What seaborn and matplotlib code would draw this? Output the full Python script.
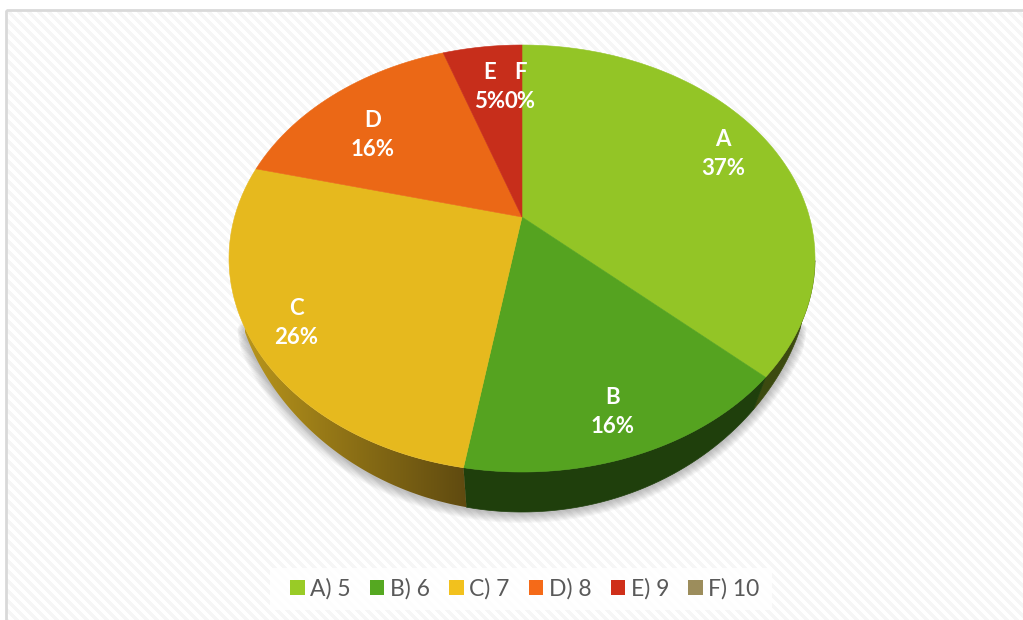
import matplotlib
matplotlib.use("Agg")
import matplotlib.pyplot as plt
import numpy as np
import seaborn as sns
from matplotlib.patches import Patch, Polygon, Rectangle

# answer counts per option, 19 answers in total
categories = ['A', 'B', 'C', 'D', 'E', 'F']
legend_labels = ['A) 5', 'B) 6', 'C) 7', 'D) 8', 'E) 9', 'F) 10']
counts = [7, 3, 5, 3, 1, 0]
pct_labels = ['37%', '16%', '26%', '16%', '5%', '0%']
colors = ['#93c526', '#55a320', '#e6b91e', '#eb6816', '#c72e1b', '#978b5b']
legend_colors = ['#99cb26', '#55a821', '#f2c11d', '#f56a18', '#cf2f19', '#9c8d5c']
wall_colors = ['#3c4a10', '#1f3f0c', '#7a5f12', '#6e3008', '#5e1508', '#474029']

sns.set_theme(style='white')
plt.rcParams['font.family'] = ['Lato', 'DejaVu Sans']

# tilted pie: circle seen in perspective, apex sits above the ellipse centre
CX, CY, RX, RY = 522, 258.5, 293, 213.5
APEX_Y = 217
K = (CY - APEX_Y) / RY
DEPTH, WALL_SHRINK, WALL_LIMIT = 40, 0.95, 280


def rim(frac):
    a = 2 * np.pi * np.asarray(frac)
    u, v = np.sin(a), np.cos(a)
    w = 1 + K * v
    return CX + RX * np.sqrt(1 - K ** 2) * u / w, CY - RY * (v + K) / w


def lower_edge(x):
    # bottom of the side wall under a rim point, wall gets thinner to the sides
    lx = CX + WALL_SHRINK * (x - CX)
    top = CY + RY * np.sqrt(np.clip(1 - ((lx - CX) / RX) ** 2, 0, 1))
    thick = DEPTH * np.clip(1 - ((lx - CX) / WALL_LIMIT) ** 2, 0, 1) ** 0.6
    return lx, top + thick


fig, ax = plt.subplots(figsize=(10.23, 6.2), dpi=100)
ax.set_position([0, 0, 1, 1])
ax.set_xlim(0, 1023)
ax.set_ylim(620, 0)
ax.axis('off')

# striped background and frame
yy, xx = np.mgrid[0:620, 0:1023]
stripes = ((xx - yy) % 10 < 5).astype(float)
ax.imshow(stripes, cmap=sns.blend_palette(['#f6f6f6', '#ffffff'], as_cmap=True),
          extent=(0, 1023, 620, 0), zorder=0, interpolation='nearest', aspect='auto')
ax.add_patch(Rectangle((0, 0), 6, 620, color='white', zorder=1))
ax.add_patch(Rectangle((0, 0), 1023, 10, color='white', zorder=1))
ax.add_patch(Rectangle((6, 10), 1030, 700, fill=False, ec='#d9d9d9', lw=2, zorder=1))

# soft shadow along the bottom of the pie, narrower towards the sides
sx, _ = rim(np.linspace(0.21, 0.79, 400))
sy = CY + RY * np.sqrt(np.clip(1 - ((sx - CX) / RX) ** 2, 0, 1))
lx, ly = lower_edge(sx)
sx_all = np.where(sy > ly, sx, lx)
sy_all = np.maximum(sy, ly)
for width in np.arange(20, 1, -2):
    keep = sy_all > 295 + width * 2.5
    ax.plot(sx_all[keep], sy_all[keep] + 1, color='#505050', lw=width * 0.72, alpha=0.04,
            solid_capstyle='round', zorder=2)

fracs = np.cumsum([0] + counts) / sum(counts)

# side wall, segment by segment
for i in range(len(counts)):
    if counts[i] == 0:
        continue
    x, y = rim(np.linspace(fracs[i], fracs[i + 1], 160))
    keep = y > 258
    if not keep.any():
        continue
    lx, ly = lower_edge(x[keep])
    pts = np.r_[np.c_[x[keep], y[keep]], np.c_[lx, ly][::-1]]
    if categories[i] == 'C':
        # C wall fades from light on the left to dark at the front
        shade = np.linspace(0, 1, 256).reshape(1, -1)
        cmap = sns.blend_palette(['#b8951c', '#8a6e15', '#5f4a10'], as_cmap=True)
        im = ax.imshow(shade, cmap=cmap, extent=(245, 468, 520, 300), zorder=4, aspect='auto')
        im.set_clip_path(Polygon(pts, transform=ax.transData))
    else:
        ax.add_patch(Polygon(pts, fc=wall_colors[i], ec=wall_colors[i], lw=0.5, zorder=4))

# top of the pie
for i in range(len(counts)):
    if counts[i] == 0:
        continue
    x, y = rim(np.linspace(fracs[i], fracs[i + 1], 200))
    pts = np.r_[[[CX, APEX_Y]], np.c_[x, y]]
    ax.add_patch(Polygon(pts, fc=colors[i], ec=colors[i], lw=0.4, zorder=5))

# data labels
label_pos = [(723, 154), (613, 412), (296, 323), (373, 135), (490, 87), (520, 87)]
for name, pct, (lx, ly) in zip(categories, pct_labels, label_pos):
    ax.text(lx, ly, name + '\n' + pct, color='white', fontsize=16, fontweight='bold',
            ha='center', va='center', linespacing=1.42, zorder=6)

# legend
ax.add_patch(Rectangle((270, 568), 502, 42, fc='white', ec='none', alpha=0.85, zorder=6))
handles = [Patch(fc=c, ec='none') for c in legend_colors]
ax.legend(handles, legend_labels, ncol=6, loc='center', frameon=False,
          bbox_to_anchor=(525, 589), bbox_transform=ax.transData,
          prop={'size': 16.5}, labelcolor='#595959', handlelength=0.62, handleheight=0.62,
          handletextpad=0.25, columnspacing=0.84, borderpad=0).set_zorder(7)

plt.savefig('out.png', dpi=100)
